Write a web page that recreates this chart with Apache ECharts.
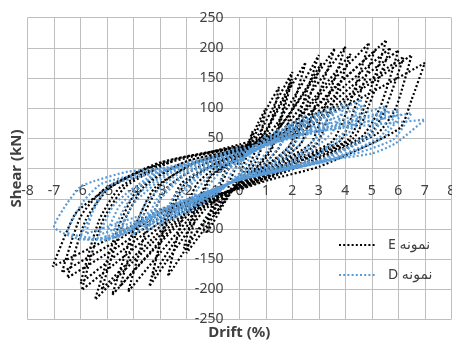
<!DOCTYPE html>
<html>
<head>
<meta charset="utf-8">
<script src="https://cdn.jsdelivr.net/npm/echarts@6/dist/echarts.min.js"></script>
<style>
  html, body { margin: 0; padding: 0; background: #fff; }
  #chart { width: 452px; height: 343px; }
</style>
</head>
<body>
<div id="chart"></div>
<script>
  // ticks
  var driftTicks = [-8, 8, 1];
  var shearTicks = [-250, 250, 50];

  // series names (legend)
  var nameE = 'نمونه E';
  var nameD = 'نمونه D';

  // specimen E loops, [drift %, shear kN]
  var loopsE = [
    [0, 0], [0.2, 25], [0.5, 62], [0.35, 30], [0.1, 0], [0, -12], [-0.2, -25], [-0.5, -48], [-0.35, -20], [-0.1, 5], [0, 12],
    [0.3, 35], [0.7, 75], [1.0, 100], [0.8, 55], [0.4, 8], [0, -15], [-0.4, -40], [-0.75, -65], [-1.0, -80], [-0.8, -40], [-0.4, 0], [0, 18],
    [0.5, 48], [1.1, 105], [1.5, 135], [1.2, 78], [0.6, 10], [0, -20], [-0.5, -52], [-1.0, -90], [-1.25, -107], [-1.0, -55], [-0.5, 0], [0, 20],
    [0.7, 55], [1.4, 112], [2.0, 160], [1.6, 92], [1.2, 35], [0.6, 0], [0, -22], [-0.7, -62], [-1.4, -105], [-2.0, -140], [-1.6, -72], [-1.1, -15], [-0.5, 5], [0, 22],
    [0.8, 50], [1.5, 105], [2.0, 148], [1.6, 85], [1.2, 30], [0.6, -2], [0, -24], [-0.8, -60], [-1.5, -100], [-2.1, -132], [-1.7, -68], [-1.1, -12], [-0.5, 6], [0, 23],
    [0.9, 55], [1.8, 125], [2.5, 176], [2.0, 100], [1.5, 35], [0.8, 2], [0, -25], [-1.0, -65], [-1.9, -125], [-2.7, -178], [-2.2, -88], [-1.6, -25], [-0.8, 5], [0, 24],
    [1.1, 56], [2.2, 128], [3.0, 188], [2.4, 108], [1.9, 38], [1.0, 5], [0, -26], [-1.3, -68], [-2.4, -132], [-3.4, -195], [-2.8, -95], [-2.1, -28], [-1.0, 6], [0, 26],
    [1.2, 52], [2.3, 118], [3.1, 175], [2.5, 100], [2.0, 35], [1.0, 4], [0, -27], [-1.4, -66], [-2.5, -125], [-3.3, -180], [-2.8, -88], [-2.2, -25], [-1.0, 7], [0, 27],
    [1.3, 57], [2.6, 135], [3.6, 199], [2.9, 110], [2.3, 40], [1.2, 6], [0, -28], [-1.6, -70], [-3.0, -140], [-4.2, -204], [-3.5, -100], [-2.7, -30], [-1.3, 8], [0, 28],
    [1.5, 58], [2.9, 138], [4.0, 202], [3.3, 112], [2.7, 42], [1.4, 8], [0, -28], [-1.8, -72], [-3.4, -142], [-4.8, -209], [-4.0, -102], [-3.2, -32], [-1.6, 10], [0, 30],
    [1.6, 56], [3.1, 132], [4.2, 190], [3.5, 105], [2.9, 40], [1.5, 8], [0, -29], [-1.9, -70], [-3.3, -135], [-4.5, -195], [-3.8, -95], [-3.0, -28], [-1.7, 10], [0, 30],
    [1.7, 60], [3.4, 140], [4.9, 208], [4.2, 112], [3.5, 45], [1.8, 10], [0, -30], [-2.0, -72], [-3.8, -145], [-5.45, -217], [-4.6, -100], [-3.8, -32], [-2.0, 12], [0, 32],
    [1.8, 58], [3.6, 135], [5.1, 195], [4.4, 106], [3.8, 46], [1.9, 10], [0, -30], [-2.1, -70], [-3.8, -138], [-5.2, -200], [-4.4, -92], [-3.6, -30], [-2.0, 12], [0, 32],
    [1.9, 60], [3.8, 142], [5.55, 213], [4.8, 112], [4.1, 48], [2.1, 10], [0, -30], [-2.2, -70], [-4.2, -140], [-5.95, -201], [-5.2, -90], [-4.3, -30], [-2.4, 14], [0, 34],
    [2.0, 58], [4.0, 138], [5.7, 200], [4.9, 106], [4.3, 50], [2.2, 11], [0, -31], [-2.3, -68], [-4.4, -135], [-6.0, -190], [-5.3, -86], [-4.5, -31], [-2.6, 13], [0, 35],
    [2.1, 60], [4.2, 135], [6.0, 196], [5.3, 100], [4.6, 52], [2.5, 12], [0, -32], [-2.5, -68], [-4.6, -130], [-6.5, -181], [-5.8, -85], [-4.9, -32], [-2.8, 12], [0, 36],
    [2.2, 58], [4.3, 128], [6.2, 185], [5.5, 98], [4.9, 55], [2.7, 13], [0, -32], [-2.6, -66], [-4.8, -124], [-6.7, -172], [-6.0, -80], [-5.1, -34], [-3.0, 10], [0, 37],
    [2.3, 60], [4.5, 128], [6.5, 188], [5.9, 100], [5.2, 58], [2.9, 14], [0, -33], [-2.8, -65], [-5.0, -118], [-7.05, -162], [-6.2, -75], [-5.4, -46], [-4.5, -21], [-3.5, 0], [-1.5, 23], [0, 40],
    [2.5, 72], [4.8, 122], [7.0, 175], [6.5, 114], [6.1, 69], [5.0, 42], [3.0, 3], [1.1, -19], [0, -35]
  ];

  // specimen D loops, [drift %, shear kN]
  var loopsD = [
    [0, 0], [0.2, 18], [0.5, 35], [0.35, 15], [0.15, 0], [0, -8], [-0.2, -15], [-0.5, -28], [-0.35, -10], [-0.1, 3], [0, 8],
    [0.4, 30], [1.0, 55], [0.75, 28], [0.4, 4], [0, -10], [-0.4, -25], [-1.0, -48], [-0.75, -22], [-0.4, 0], [0, 10],
    [0.6, 35], [1.5, 66], [1.15, 35], [0.6, 5], [0, -12], [-0.6, -32], [-1.5, -62], [-1.15, -28], [-0.6, 0], [0, 12],
    [0.8, 40], [2.0, 76], [1.6, 42], [0.9, 6], [0, -14], [-0.8, -38], [-2.0, -75], [-1.6, -35], [-0.9, -2], [0, 14],
    [1.0, 44], [2.5, 88], [2.05, 48], [1.2, 8], [0, -15], [-1.0, -42], [-2.5, -85], [-2.1, -42], [-1.3, -4], [0, 15],
    [1.1, 42], [2.6, 82], [2.15, 45], [1.3, 8], [0, -15], [-1.1, -40], [-2.6, -80], [-2.2, -40], [-1.4, -4], [0, 15],
    [1.2, 48], [3.0, 94], [2.5, 52], [1.5, 8], [0, -16], [-1.2, -46], [-3.0, -95], [-2.5, -48], [-1.6, -5], [0, 16],
    [1.4, 50], [3.5, 102], [3.0, 56], [1.8, 9], [0, -16], [-1.4, -50], [-3.5, -103], [-3.0, -52], [-1.9, -6], [0, 18],
    [1.5, 48], [3.6, 95], [3.1, 52], [1.9, 9], [0, -16], [-1.5, -48], [-3.6, -97], [-3.1, -50], [-2.0, -6], [0, 18],
    [1.6, 52], [4.0, 108], [3.5, 60], [2.1, 10], [0, -17], [-1.6, -52], [-4.06, -110], [-3.5, -55], [-2.2, -6], [0, 20],
    [1.8, 55], [4.6, 114], [4.0, 62], [2.4, 10], [0, -18], [-1.8, -55], [-4.6, -114], [-4.0, -58], [-2.5, -5], [0, 22],
    [1.9, 52], [4.7, 105], [4.1, 58], [2.5, 10], [0, -18], [-1.9, -53], [-4.8, -108], [-4.2, -56], [-2.6, -5], [0, 22],
    [2.0, 55], [5.5, 103], [4.8, 55], [2.9, 12], [0, -18], [-2.0, -58], [-5.1, -118], [-4.5, -60], [-3.0, -7], [0, 25],
    [2.1, 54], [5.6, 96], [4.9, 52], [3.0, 12], [0, -18], [-2.1, -56], [-5.3, -110], [-4.7, -58], [-3.1, -7], [0, 25],
    [2.3, 56], [6.0, 97], [5.3, 52], [3.3, 14], [0, -19], [-2.3, -60], [-5.5, -117], [-6.0, -115], [-5.4, -60], [-4.9, -28], [-3.3, -8], [0, 28],
    [2.4, 55], [6.1, 90], [5.4, 50], [3.4, 14], [0, -19], [-2.4, -58], [-5.8, -108], [-5.4, -55], [-4.8, -26], [-3.3, -8], [0, 28],
    [2.6, 58], [6.5, 92], [5.8, 48], [3.6, 15], [0, -19], [-2.6, -62], [-5.0, -116], [-6.5, -105], [-5.9, -55], [-5.2, -25], [-3.6, -7], [-1.0, 20], [0, 32],
    [2.9, 62], [7.0, 81], [5.9, 42], [5.0, 25], [2.5, 9], [0, -19], [-3.0, -70], [-5.0, -118], [-6.0, -117], [-7.0, -96], [-6.5, -57], [-6.0, -30], [-5.5, -21], [-4.2, -5], [-2.35, 3], [-1.0, 20], [0, 35]
  ];

  var font = '"Noto Sans", "DejaVu Sans", sans-serif';
  var gridColor = '#bfbfbf';
  var textColor = '#404040';

  // plot box, px
  var gridLeft = 27.5;
  var gridRight = 0.7;
  var gridTop = 17.7;
  var gridBottom = 23.5;
  var plotW = 452 - gridLeft - gridRight;
  var plotH = 343 - gridTop - gridBottom;

  var myChart = echarts.init(document.getElementById('chart'), null, {renderer: 'canvas'});
  myChart.setOption({
    animation: false,
    grid: {
      left: gridLeft,
      right: gridRight,
      top: gridTop,
      bottom: gridBottom,
      containLabel: false,
      outerBoundsMode: 'none'
    },
    legend: {
      orient: 'vertical',
      left: 333,
      top: 233,
      itemWidth: 37,
      itemHeight: 14,
      itemGap: 16,
      data: [nameE, nameD],
      formatter: function (name) {
        return '\u202B' + name + '\u202C';
      },
      itemStyle: {
        opacity: 0
      },
      textStyle: {
        color: textColor,
        fontSize: 14,
        fontFamily: font,
        padding: [0, 0, 0, 7]
      }
    },
    graphic: [
      {
        type: 'text',
        x: 16.7,
        y: 168.5,
        rotation: Math.PI / 2,
        style: {
          text: 'Shear (kN)',
          fill: textColor,
          font: 'bold 15px ' + font,
          textAlign: 'center',
          textVerticalAlign: 'middle'
        }
      },
      {
        type: 'text',
        x: gridLeft + plotW / 2,
        y: 333,
        style: {
          text: 'Drift (%)',
          fill: textColor,
          font: 'bold 15px ' + font,
          textAlign: 'center',
          textVerticalAlign: 'middle'
        }
      }
    ],
    xAxis: {
      type: 'value',
      position: 'bottom',
      // axis crosses at shear = 0 (middle of the box)
      offset: -plotH / 2,
      min: driftTicks[0],
      max: driftTicks[1],
      interval: driftTicks[2],
      axisLine: {
        show: true,
        onZero: false,
        lineStyle: {color: gridColor, width: 1}
      },
      axisTick: {show: false},
      axisLabel: {
        margin: 15,
        color: textColor,
        fontSize: 14,
        fontFamily: font,
        showMinLabel: true,
        showMaxLabel: true
      },
      splitLine: {
        lineStyle: {color: gridColor, width: 1}
      }
    },
    yAxis: {
      type: 'value',
      position: 'left',
      // axis crosses at drift = 0
      offset: -plotW / 2,
      min: shearTicks[0],
      max: shearTicks[1],
      interval: shearTicks[2],
      axisLine: {
        show: true,
        onZero: false,
        lineStyle: {color: gridColor, width: 1}
      },
      axisTick: {show: false},
      axisLabel: {
        margin: 16,
        color: textColor,
        fontSize: 14,
        fontFamily: font,
        showMinLabel: true,
        showMaxLabel: true
      },
      splitLine: {
        lineStyle: {color: gridColor, width: 1}
      }
    },
    series: [
      {
        name: nameE,
        type: 'line',
        data: loopsE,
        symbol: 'none',
        smooth: 0.2,
        color: '#000000',
        lineStyle: {
          color: '#000000',
          width: 2.2,
          type: [2, 2.2],
          cap: 'butt'
        }
      },
      {
        name: nameD,
        type: 'line',
        data: loopsD,
        symbol: 'none',
        smooth: 0.2,
        color: '#5b9bd5',
        lineStyle: {
          color: '#5b9bd5',
          width: 2.2,
          type: [2, 2.2],
          cap: 'butt'
        }
      }
    ]
  });
</script>
</body>
</html>
